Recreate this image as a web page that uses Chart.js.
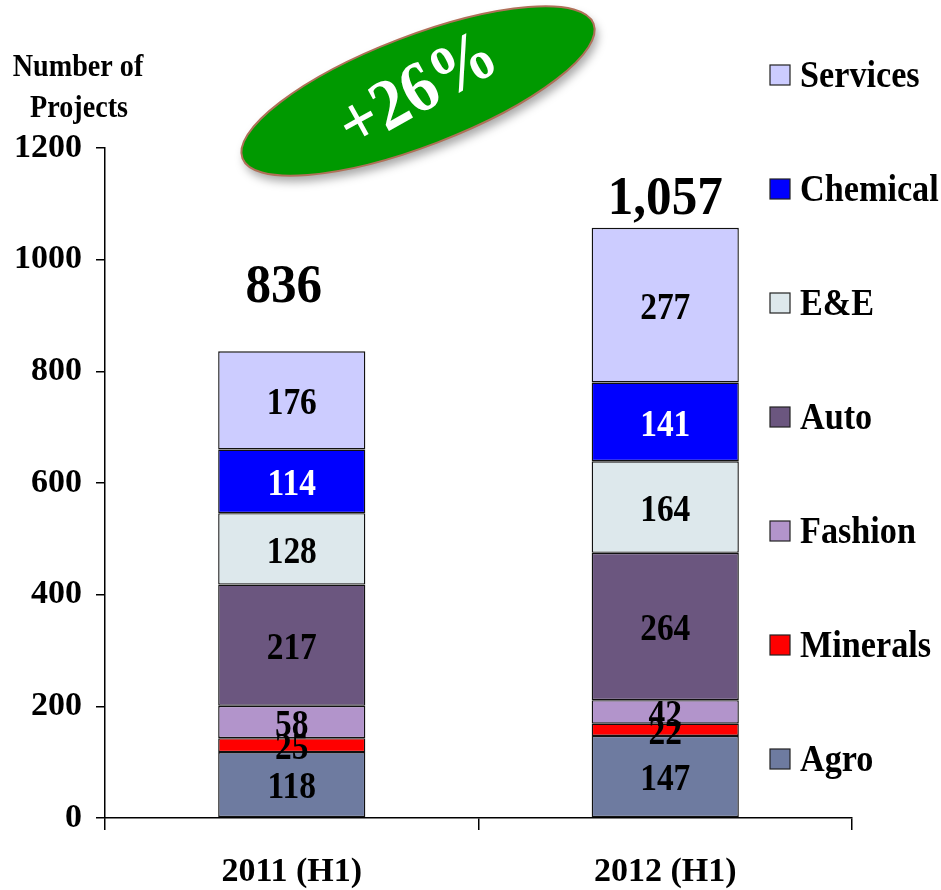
<!DOCTYPE html>
<html>
<head>
<meta charset="utf-8">
<script src="https://cdn.jsdelivr.net/npm/chart.js@4.4.1/dist/chart.umd.min.js"></script>
<style>
  html, body { margin: 0; padding: 0; background: #fff; }
  #wrap { width: 941px; height: 890px; position: relative; }
</style>
</head>
<body>
<div id="wrap"><canvas id="myChart" width="941" height="890"></canvas></div>
<script>
// Datos del gráfico
const categories = ['2011 (H1)', '2012 (H1)'];
const seriesNames = ['Agro', 'Minerals', 'Fashion', 'Auto', 'E&E', 'Chemical', 'Services'];
const agro = [118, 147];
const minerals = [25, 22];
const fashion = [58, 42];
const auto = [217, 264];
const ee = [128, 164];
const chemical = [114, 141];
const services = [176, 277];
const totals = ['836', '1,057'];
const yTicks = [0, 200, 400, 600, 800, 1000, 1200];
const growthLabel = '+26%';

const colors = ['#6E7BA0', '#FF0000', '#B294CB', '#6B567F', '#DDE8EC', '#0000FF', '#CCCCFF'];
const labelColors = ['#000', '#000', '#000', '#000', '#000', '#fff', '#000'];
const serif = '"Liberation Serif", "Times New Roman", serif';

const seriesValues = [agro, minerals, fashion, auto, ee, chemical, services];

const datasets = seriesNames.map((name, i) => ({
    label: name,
    data: seriesValues[i],
    backgroundColor: colors[i],
    borderColor: '#111',
    borderWidth: 1.4,
    borderSkipped: false,
    barPercentage: 0.394,
    categoryPercentage: 1.0,
}));

// Texto con compresión horizontal (como en el original)
function squishText(ctx, text, x, y, size, color, sx) {
    ctx.save();
    ctx.translate(x, y);
    ctx.scale(sx, 1);
    ctx.font = 'bold ' + size + 'px ' + serif;
    ctx.fillStyle = color;
    ctx.textAlign = 'center';
    ctx.textBaseline = 'middle';
    ctx.fillText(text, 0, 0);
    ctx.restore();
}

// Etiquetas de valores y totales
const valueLabels = {
    id: 'valueLabels',
    afterDatasetsDraw(chart) {
        const { ctx } = chart;
        chart.data.datasets.forEach((ds, i) => {
            chart.getDatasetMeta(i).data.forEach((bar, j) => {
                const yMid = (bar.y + bar.base) / 2;
                squishText(ctx, String(ds.data[j]), bar.x, yMid + 4, 38, labelColors[i], 0.88);
            });
        });
        const top = chart.getDatasetMeta(chart.data.datasets.length - 1).data;
        const lift = [63, 28];
        top.forEach((bar, j) => {
            squishText(ctx, totals[j], bar.x - (j === 0 ? 8 : 0), bar.y - lift[j], 55, '#000', 0.93);
        });
    },
};

// Leyenda, título del eje y óvalo verde
const decorations = {
    id: 'decorations',
    afterDraw(chart) {
        const { ctx } = chart;
        // título del eje Y
        squishText(ctx, 'Number of', 78, 68, 32, '#000', 0.88);
        squishText(ctx, 'Projects', 79, 109, 32, '#000', 0.88);

        // leyenda (orden invertido)
        const n = chart.data.datasets.length;
        for (let k = 0; k < n; k++) {
            const i = n - 1 - k;
            const yc = 75 + k * 114;
            ctx.save();
            ctx.fillStyle = colors[i];
            ctx.strokeStyle = '#222';
            ctx.lineWidth = 1.2;
            ctx.fillRect(770, yc - 10, 20, 20);
            ctx.strokeRect(770, yc - 10, 20, 20);
            ctx.restore();
            ctx.save();
            ctx.translate(800, yc + 2);
            ctx.scale(0.9, 1);
            ctx.font = 'bold 38px ' + serif;
            ctx.fillStyle = '#000';
            ctx.textBaseline = 'middle';
            ctx.fillText(chart.data.datasets[i].label, 0, 0);
            ctx.restore();
        }

        // óvalo "+26%"
        ctx.save();
        ctx.translate(418, 91);
        ctx.rotate(-21 * Math.PI / 180);
        ctx.shadowColor = 'rgba(0,0,0,0.35)';
        ctx.shadowBlur = 10;
        ctx.shadowOffsetX = 3;
        ctx.shadowOffsetY = 6;
        ctx.beginPath();
        ctx.ellipse(0, 0, 188, 55, 0, 0, Math.PI * 2);
        ctx.fillStyle = '#009900';
        ctx.fill();
        ctx.shadowColor = 'transparent';
        ctx.lineWidth = 2;
        ctx.strokeStyle = '#B07058';
        ctx.stroke();
        ctx.restore();

        ctx.save();
        ctx.translate(419, 93);
        ctx.rotate(-29 * Math.PI / 180);
        ctx.scale(0.92, 1);
        ctx.font = 'bold 72px ' + serif;
        ctx.fillStyle = '#fff';
        ctx.textAlign = 'center';
        ctx.textBaseline = 'middle';
        ctx.fillText(growthLabel, 0, 0);
        ctx.restore();
    },
};

const ctx = document.getElementById('myChart').getContext('2d');

new Chart(ctx, {
    type: 'bar',
    data: { labels: categories, datasets: datasets },
    options: {
        responsive: false,
        animation: false,
        layout: { padding: { top: 148, right: 89, left: 0, bottom: 0 } },
        plugins: {
            legend: { display: false },
            tooltip: { enabled: false },
        },
        scales: {
            x: {
                stacked: true,
                border: { color: '#000', width: 1.5 },
                grid: { drawOnChartArea: false, drawTicks: true, tickLength: 12, color: '#000', lineWidth: 1.5, offset: true },
                ticks: { color: '#000', padding: 22, font: { family: serif, weight: 'bold', size: 34 } },
                afterFit(scale) { scale.height = 72; },
            },
            y: {
                stacked: true,
                min: 0,
                max: 1200,
                afterBuildTicks(scale) { scale.ticks = yTicks.map(v => ({ value: v })); },
                border: { color: '#000', width: 1.5 },
                grid: { drawOnChartArea: false, drawTicks: true, tickLength: 9, color: '#000', lineWidth: 1.5 },
                ticks: {
                    color: '#000',
                    padding: 14,
                    font: { family: serif, weight: 'bold', size: 34 },
                    callback: (value) => String(value),
                },
                afterFit(scale) { scale.width = 105; },
            },
        },
    },
    plugins: [valueLabels, decorations],
});
</script>
</body>
</html>
